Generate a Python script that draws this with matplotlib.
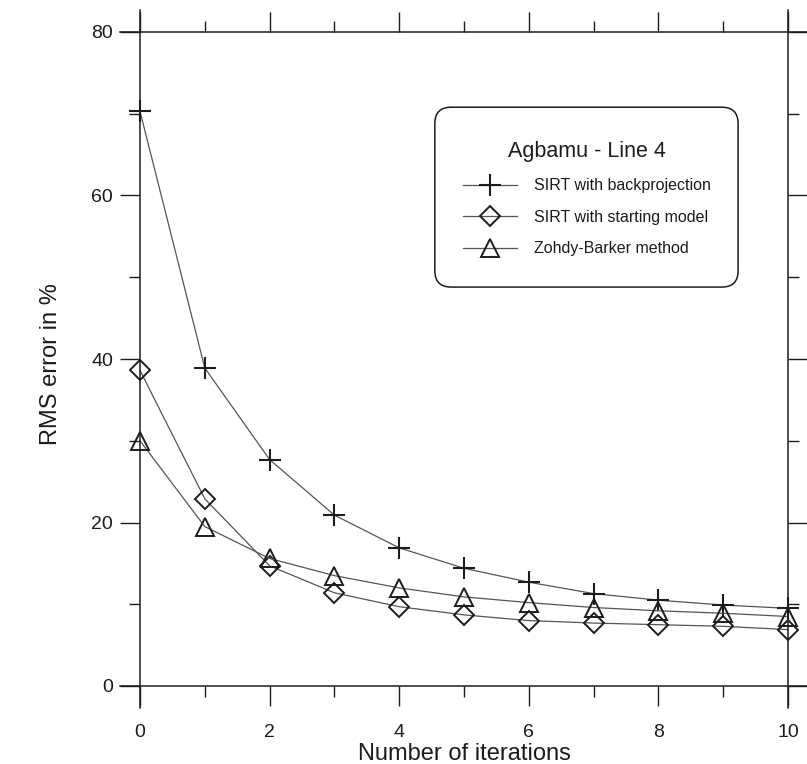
import matplotlib
matplotlib.use("Agg")
import matplotlib.pyplot as plt
from matplotlib.patches import FancyBboxPatch

plt.rcParams['font.family'] = ['Liberation Sans', 'DejaVu Sans']

# iterations and RMS errors
iterations = [0, 1, 2, 3, 4, 5, 6, 7, 8, 9, 10]
sirt_backproj = [70.3, 38.9, 27.7, 20.9, 16.9, 14.4, 12.7, 11.3, 10.5, 9.9, 9.5]
sirt_start = [38.6, 22.9, 14.7, 11.4, 9.7, 8.7, 8.0, 7.7, 7.5, 7.3, 6.9]
zohdy_barker = [30.0, 19.5, 15.6, 13.5, 12.0, 10.9, 10.2, 9.6, 9.2, 8.9, 8.5]

labels = ['SIRT with backprojection', 'SIRT with starting model', 'Zohdy-Barker method']
legend_title = 'Agbamu - Line 4'

ink = '#1c1c1c'
line_col = '#555555'

fig = plt.figure(figsize=(8.07, 7.64), dpi=100)
ax = fig.add_axes([140 / 807, 1 - 686 / 764, 648 / 807, 654 / 764])

ax.plot(iterations, sirt_backproj, color=line_col, lw=0.9, marker='+', ms=15.5,
        mew=1.5, mec=ink, label=labels[0], clip_on=False, zorder=3)
ax.plot(iterations, sirt_start, color=line_col, lw=0.9, marker='D', ms=10,
        mew=1.4, mec=ink, mfc='none', label=labels[1], clip_on=False, zorder=3)
ax.plot(iterations, zohdy_barker, color=line_col, lw=0.9, marker='^', ms=13,
        mew=1.4, mec=ink, mfc='none', label=labels[2], clip_on=False, zorder=3)

ax.set_xlim(0, 10)
ax.set_ylim(0, 80)
ax.set_xticks(range(0, 11, 2))
ax.set_xticks(range(1, 11, 2), minor=True)
ax.set_yticks(range(0, 81, 20))
ax.set_yticks(range(10, 81, 20), minor=True)

# frame drawn as crossing lines that run past the corners
for s in ax.spines.values():
    s.set_visible(False)
kw = dict(color=ink, lw=1.1, clip_on=False, zorder=4)
ax.plot([-0.31, 10.3], [80, 80], **kw)
ax.plot([-0.31, 10.3], [0, 0], **kw)
ax.plot([0, 0], [-2.7, 82.7], **kw)
ax.plot([10, 10], [-2.7, 82.7], **kw)

ax.tick_params(which='both', direction='out', top=True, right=True,
               color=ink, width=1.0, labelsize=14, labelcolor=ink)
ax.tick_params(which='major', length=14.4, pad=5)
ax.tick_params(which='minor', length=7.6)
ax.tick_params(axis='x', which='major', pad=13)

ax.set_xlabel('Number of iterations', fontsize=17, color=ink)
ax.set_ylabel('RMS error in %', fontsize=17, color=ink)
ax.xaxis.set_label_coords(0.5, -0.104)
ax.xaxis.label.set_va('center')
ax.yaxis.set_label_coords(-0.138, 0.492)
ax.yaxis.label.set_va('center')

leg = ax.legend(loc='upper left', bbox_to_anchor=(0.4862, 0.8456), frameon=False,
                title=legend_title, title_fontsize=15.5, fontsize=11.5,
                borderpad=0, handlelength=3.4, handletextpad=1.06,
                labelspacing=1.03)
for t in leg.get_texts():
    t.set_color(ink)
leg.get_title().set_color(ink)

box = FancyBboxPatch((0.455, 0.610), 0.468, 0.275, transform=ax.transAxes,
                     boxstyle='round,pad=0,rounding_size=0.025',
                     fc='white', ec=ink, lw=1.1, zorder=2)
ax.add_patch(box)

fig.savefig('out.png', dpi=100)
